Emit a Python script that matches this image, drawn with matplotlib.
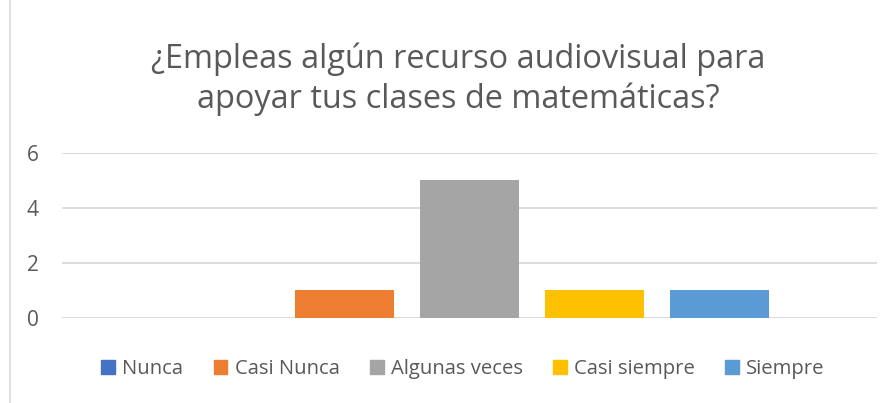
import matplotlib
matplotlib.use("Agg")
import matplotlib.pyplot as plt
from matplotlib.lines import Line2D

categories = ["Nunca", "Casi Nunca", "Algunas veces", "Casi siempre", "Siempre"]
values = [0, 1, 5, 1, 1]
colors = ["#4472C4", "#ED7D31", "#A5A5A5", "#FFC000", "#5B9BD5"]
yticks = [0, 2, 4, 6]
title = "¿Empleas algún recurso audiovisual para\napoyar tus clases de matemáticas?"

W, H = 892, 403
fig = plt.figure(figsize=(W / 100, H / 100), dpi=100)
plt.rcParams['font.family'] = ['Open Sans', 'DejaVu Sans']

# plot area in pixels: x 62-877, y 152.7 (6) to 317.7 (0)
ax = fig.add_axes([62 / W, 1 - 317.7 / H, (877 - 62) / W, (317.7 - 152.7) / H])
for i, (c, v, col) in enumerate(zip(categories, values, colors)):
    ax.bar(i, v, width=0.792, color=col, label=c, zorder=3)
ax.set_xlim(-1.26, 5.26)
ax.set_ylim(0, 6)
ax.set_yticks(yticks)
ax.set_xticks([])
ax.yaxis.grid(True, color="#D9D9D9", linewidth=1.3, zorder=0)
for s in ax.spines.values():
    s.set_visible(False)
ax.tick_params(axis="y", length=0, pad=17, labelsize=15, labelcolor="#595959")

fig.text(458 / W, 1 - 79 / H, title, ha="center", va="center", fontsize=23.4,
         color="#595959", linespacing=1.26)

handles = [plt.Rectangle((0, 0), 1, 1, color=c) for c in colors]
fig.legend(handles, categories, loc="center", bbox_to_anchor=(463 / W, 1 - 369 / H),
           ncol=5, frameon=False, fontsize=14.6, labelcolor="#595959",
           handlelength=0.68, handleheight=0.68, handletextpad=0.35, columnspacing=1.5)

fig.add_artist(Line2D([10 / W, 10 / W], [0, 1], color="#D9D9D9", linewidth=1.2))

fig.savefig("out.png", dpi=100, facecolor="white")
